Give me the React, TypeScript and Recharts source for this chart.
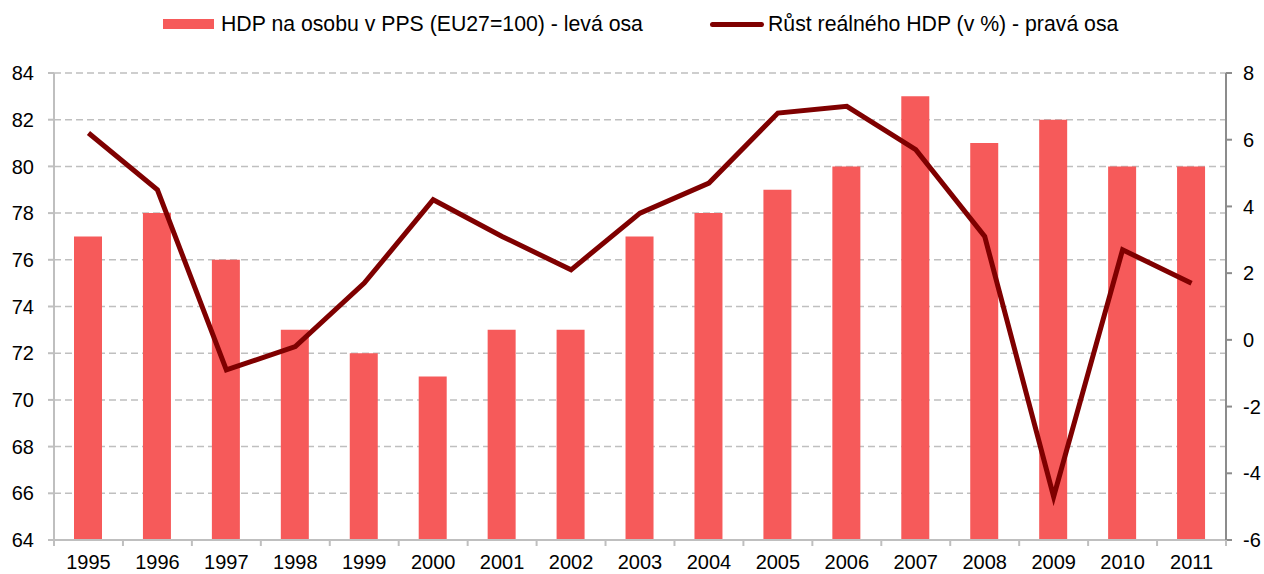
import React from "react";
import {
  ComposedChart,
  Bar,
  Line,
  XAxis,
  YAxis,
  CartesianGrid,
  Legend,
} from "recharts";

const years = ["1995","1996","1997","1998","1999","2000","2001","2002","2003","2004","2005","2006","2007","2008","2009","2010","2011"];
const gdpPerCapitaPPS = [77, 78, 76, 73, 72, 71, 73, 73, 77, 78, 79, 80, 83, 81, 82, 80, 80];
const realGdpGrowth = [6.2, 4.5, -0.9, -0.2, 1.7, 4.2, 3.1, 2.1, 3.8, 4.7, 6.8, 7.0, 5.7, 3.1, -4.7, 2.7, 1.7];
const leftTicks = [64, 66, 68, 70, 72, 74, 76, 78, 80, 82, 84];
const rightTicks = [-6, -4, -2, 0, 2, 4, 6, 8];

const BAR_NAME = "HDP na osobu v PPS (EU27=100) - levá osa";
const LINE_NAME = "Růst reálného HDP (v %) - pravá osa";

const data = years.map((y, i) => ({
  year: y,
  pps: gdpPerCapitaPPS[i],
  growth: realGdpGrowth[i],
}));

const W = 1264;
const H = 574;
const LEFT_W = 54;
const RIGHT_W = 38;
const TOP = 73;
const XAXIS_H = 34;
const PLOT_W = W - LEFT_W - RIGHT_W;
const BAND = PLOT_W / years.length;

const FONT = "'Liberation Sans', Arial, sans-serif";
const BAR_COLOR = "#F65A5A";
const LINE_COLOR = "#7F0000";
const AXIS_LIGHT = "#BFBFBF";
const AXIS_DARK = "#8C8C8C";

const XTick = (props: any) => {
  const { x, y, payload, index } = props;
  const half = BAND / 2;
  const last = index === years.length - 1;
  return (
    <g>
      <line x1={x - half} x2={x - half} y1={y} y2={y + 6} stroke={AXIS_LIGHT} strokeWidth={2} />
      {last && (
        <line x1={x + half} x2={x + half} y1={y} y2={y + 6} stroke={AXIS_LIGHT} strokeWidth={2} />
      )}
      <text x={x} y={y + 29} textAnchor="middle" fill="#000" fontSize={20} fontFamily={FONT}>
        {payload.value}
      </text>
    </g>
  );
};

const LegendContent = () => (
  <div style={{ position: "relative", width: W, height: 0, fontFamily: FONT, fontSize: 21.25, color: "#000" }}>
    <div style={{ position: "absolute", left: 163, top: 19, width: 51, height: 10, background: BAR_COLOR }} />
    <div style={{ position: "absolute", left: 221, top: 11, whiteSpace: "nowrap", lineHeight: "26px" }}>{BAR_NAME}</div>
    <div style={{ position: "absolute", left: 710, top: 22, width: 54, height: 5, background: LINE_COLOR, borderRadius: 3 }} />
    <div style={{ position: "absolute", left: 768, top: 11, whiteSpace: "nowrap", lineHeight: "26px" }}>{LINE_NAME}</div>
  </div>
);

export default function App() {
  return (
    <div style={{ width: W, height: H, background: "#fff" }}>
      <style>{`body{margin:0;}`}</style>
      <ComposedChart
        width={W}
        height={H}
        data={data}
        margin={{ top: TOP, right: 0, bottom: 0, left: 0 }}
        barCategoryGap={0}
      >
        <CartesianGrid
          yAxisId="left"
          vertical={false}
          stroke={AXIS_LIGHT}
          strokeWidth={1.5}
          strokeDasharray="7 4"
        />
        <XAxis
          dataKey="year"
          height={XAXIS_H}
          tickSize={0}
          tickMargin={0}
          tickLine={false}
          axisLine={{ stroke: AXIS_LIGHT, strokeWidth: 2 }}
          tick={<XTick />}
          interval={0}
        />
        <YAxis
          yAxisId="left"
          orientation="left"
          width={LEFT_W}
          domain={[64, 84]}
          ticks={leftTicks}
          interval={0}
          tickSize={6}
          tickMargin={14}
          axisLine={{ stroke: AXIS_LIGHT, strokeWidth: 2 }}
          tickLine={{ stroke: AXIS_LIGHT, strokeWidth: 2 }}
          tick={{ fill: "#000", fontSize: 20, fontFamily: FONT }}
        />
        <YAxis
          yAxisId="right"
          orientation="right"
          width={RIGHT_W}
          domain={[-6, 8]}
          ticks={rightTicks}
          interval={0}
          tickSize={6}
          tickMargin={11}
          axisLine={{ stroke: AXIS_DARK, strokeWidth: 2 }}
          tickLine={{ stroke: AXIS_DARK, strokeWidth: 2 }}
          tick={{ fill: "#000", fontSize: 20, fontFamily: FONT }}
        />
        <Legend
          verticalAlign="middle"
          layout="horizontal"
          content={<LegendContent />}
          wrapperStyle={{ left: 0, top: 0, width: W, height: 0 }}
        />
        <Bar
          yAxisId="left"
          dataKey="pps"
          name={BAR_NAME}
          fill={BAR_COLOR}
          barSize={28}
          isAnimationActive={false}
        />
        <Line
          yAxisId="right"
          dataKey="growth"
          name={LINE_NAME}
          stroke={LINE_COLOR}
          strokeWidth={5}
          dot={false}
          activeDot={false}
          strokeLinejoin="miter"
          isAnimationActive={false}
        />
      </ComposedChart>
    </div>
  );
}
